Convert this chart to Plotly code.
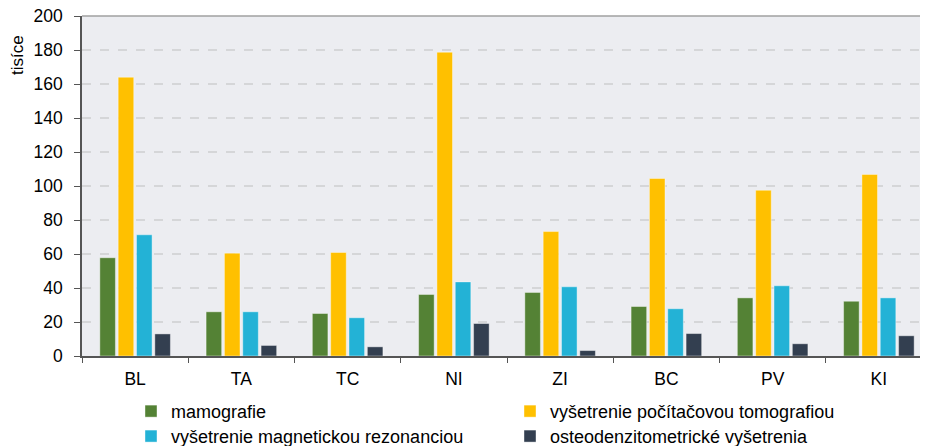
import plotly.graph_objects as go

categories = ["BL", "TA", "TC", "NI", "ZI", "BC", "PV", "KI"]
mamografie = [57.8, 26.0, 25.0, 36.2, 37.4, 29.1, 34.2, 32.2]
ct = [164.0, 60.5, 60.9, 178.7, 73.2, 104.4, 97.5, 106.8]
mr = [71.3, 26.0, 22.5, 43.6, 40.7, 27.8, 41.3, 34.2]
osteo = [13.0, 6.2, 5.4, 19.1, 3.2, 13.2, 7.2, 11.9]

series_names = ["mamografie", "vyšetrenie počítačovou tomografiou",
                "vyšetrenie magnetickou rezonanciou", "osteodenzitometrické vyšetrenia"]
series_values = [mamografie, ct, mr, osteo]
colors = ["#548235", "#FFC000", "#23B2D6", "#333F50"]
legend_ids = ["legend", "legend", "legend2", "legend2"]
y_ticks = [0, 20, 40, 60, 80, 100, 120, 140, 160, 180, 200]

font = "Liberation Sans, Arial, sans-serif"
fig = go.Figure()
for name, vals, c, lg in zip(series_names, series_values, colors, legend_ids):
    fig.add_trace(go.Bar(x=categories, y=vals, name=name, marker_color=c, legend=lg,
                         marker_line=dict(color="rgba(255,255,255,0.5)", width=0.8)))

W, H = 928, 446
ml, mr_, mt, mb = 74, 4, 8, 97.5
pw = W - ml - mr_
ph = H - mt - mb
leg_x = (123 - ml) / pw
row1_y = (H - mb - 404) / ph
row2_y = (H - mb - 429) / ph
legend_common = dict(orientation="h", x=leg_x, xanchor="left", yanchor="middle",
                     entrywidth=334, entrywidthmode="pixels",
                     font=dict(family=font, size=18), itemwidth=30,
                     traceorder="normal", bgcolor="rgba(0,0,0,0)")

fig.update_layout(
    width=W, height=H,
    margin=dict(l=ml, r=mr_, t=mt, b=mb, autoexpand=False),
    paper_bgcolor="white", plot_bgcolor="#ECEDF1",
    barmode="group", bargap=0.31, bargroupgap=0.15,
    font=dict(family=font, size=17, color="#000000"),
    showlegend=True,
    legend=dict(y=row1_y, **legend_common),
    legend2=dict(y=row2_y, **legend_common),
    xaxis=dict(range=[-0.5, 7.5], showline=True, linecolor="#555555", linewidth=1.5,
               ticks="outside", tickson="boundaries", ticklen=5, tickcolor="#555555",
               tickfont=dict(size=17.5), ticklabelstandoff=6, showgrid=False),
    yaxis=dict(range=[0, 200], tickvals=y_ticks, showline=True, linecolor="#555555",
               linewidth=1.5, ticks="outside", ticklen=6, tickcolor="#555555",
               showgrid=True, gridcolor="#D5D6D8", griddash="dash", gridwidth=1.5,
               tickfont=dict(size=17.5), ticklabelstandoff=8, zeroline=False,
               ticklabeloverflow="allow"),
    shapes=[dict(type="line", xref="paper", yref="paper", x0=0, x1=1, y0=1, y1=1,
                 line=dict(color="#A0A0A0", width=1.5))],
    annotations=[dict(text="tisíce", xref="paper", yref="paper", x=-(ml - 10) / pw,
                      xanchor="center", y=1 - (17 / ph), yanchor="top", textangle=-90,
                      showarrow=False, font=dict(family=font, size=17))],
)
fig.write_html("out.html")
